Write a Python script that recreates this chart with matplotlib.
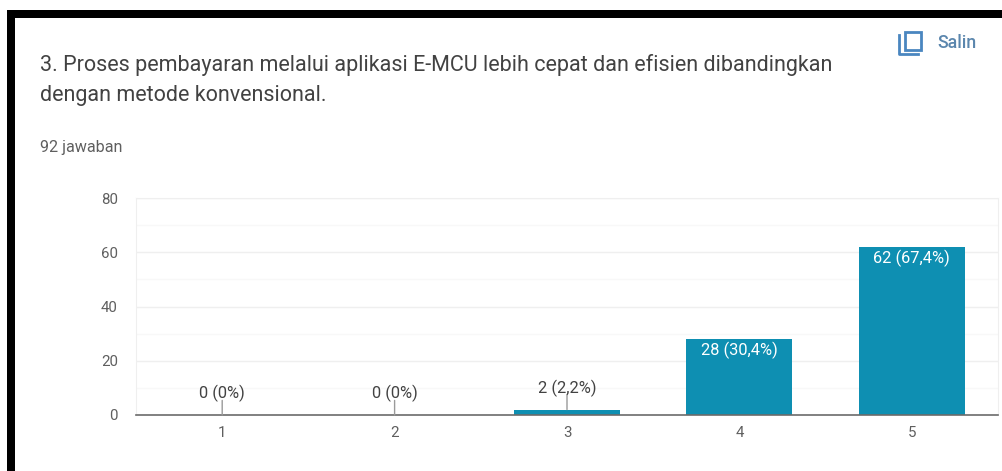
#! /usr/bin/env python3

import matplotlib
matplotlib.use("Agg")
import matplotlib.pyplot as plt
from matplotlib.lines import Line2D
from matplotlib.patches import Rectangle

W, H = 1002, 471

categories = [1, 2, 3, 4, 5]
counts = [0, 0, 2, 28, 62]
bar_labels = ["0 (0%)", "0 (0%)", "2 (2,2%)", "28 (30,4%)", "62 (67,4%)"]
y_ticks = [0, 20, 40, 60, 80]
minor_ticks = [10, 30, 50, 70]

title_lines = ["3. Proses pembayaran melalui aplikasi E-MCU lebih cepat dan efisien dibandingkan",
               "dengan metode konvensional."]
subtitle = "92 jawaban"
copy_label = "Salin"

bar_color = "#0e8fb2"
text_color = "#424242"
tick_color = "#5f5f5f"

plt.rcParams["font.family"] = ["Roboto", "DejaVu Sans"]


def fx(px):
    return px / W


def fy(px):
    return 1 - px / H


fig = plt.figure(figsize=(W / 100, H / 100), dpi=100, facecolor="white")

# black frame of the screenshot, left and top only
fig.add_artist(Rectangle((fx(7), 0), 8 / W, fy(10), color="black", lw=0))
fig.add_artist(Rectangle((fx(7), fy(18)), 1 - fx(7), 8 / H, color="black", lw=0))

fig.text(fx(40), fy(65), title_lines[0], fontsize=15.5, color=text_color, va="center")
fig.text(fx(40), fy(96), title_lines[1], fontsize=15.5, color=text_color, va="center")
fig.text(fx(40), fy(148), subtitle, fontsize=11.6, color=tick_color, va="center")

# copy icon
icon_color = "#4a86c0"
fig.add_artist(Rectangle((fx(905), fy(50)), 16 / W, 18 / H, fill=False, ec=icon_color, lw=2))
fig.add_artist(Line2D([fx(899), fx(899), fx(918)], [fy(35), fy(54), fy(54)], color=icon_color, lw=2))
fig.text(fx(937), fy(43), copy_label, fontsize=12.8, color="#5b86ad", va="center", weight="medium")

ax = fig.add_axes([fx(136), fy(415), (998 - 136) / W, (415 - 198) / H])
ax.bar(categories, counts, width=0.615, color=bar_color, zorder=3)

ax.set_xlim(0.5, 5.5)
ax.set_ylim(0, 80)
ax.set_xticks(categories)
ax.set_yticks(y_ticks)
ax.set_yticks(minor_ticks, minor=True)
ax.grid(True, axis="y", which="major", color="#efefef", lw=1, zorder=0)
ax.grid(True, axis="y", which="minor", color="#f8f8f8", lw=1, zorder=0)
ax.tick_params(axis="both", which="both", length=0)
ax.tick_params(axis="y", which="major", pad=13, labelsize=10.8, labelcolor=tick_color)
ax.tick_params(axis="x", pad=8, labelsize=10.8, labelcolor=tick_color)

for side in ["top", "right", "left"]:
    ax.spines[side].set_color("#efefef")
ax.spines["bottom"].set_color("#6b6b6b")
ax.spines["bottom"].set_linewidth(1.2)
ax.spines["bottom"].set_zorder(4)

for cat, count, label in zip(categories, counts, bar_labels):
    if count >= 20:
        ax.annotate(label, (cat, count), xytext=(0, -8), textcoords="offset points",
                    ha="center", va="center", fontsize=11.8, color="white", zorder=5)
    else:
        # small bars get the label above, with a short leader line
        ax.annotate(label, (cat, count), xytext=(0, 15.5), textcoords="offset points",
                    ha="center", va="center", fontsize=11.8, color=text_color, zorder=5,
                    arrowprops=dict(arrowstyle="-", color="#9a9a9a", lw=1, patchA=None,
                                    shrinkA=5, shrinkB=0))

fig.savefig("out.png", dpi=100)
